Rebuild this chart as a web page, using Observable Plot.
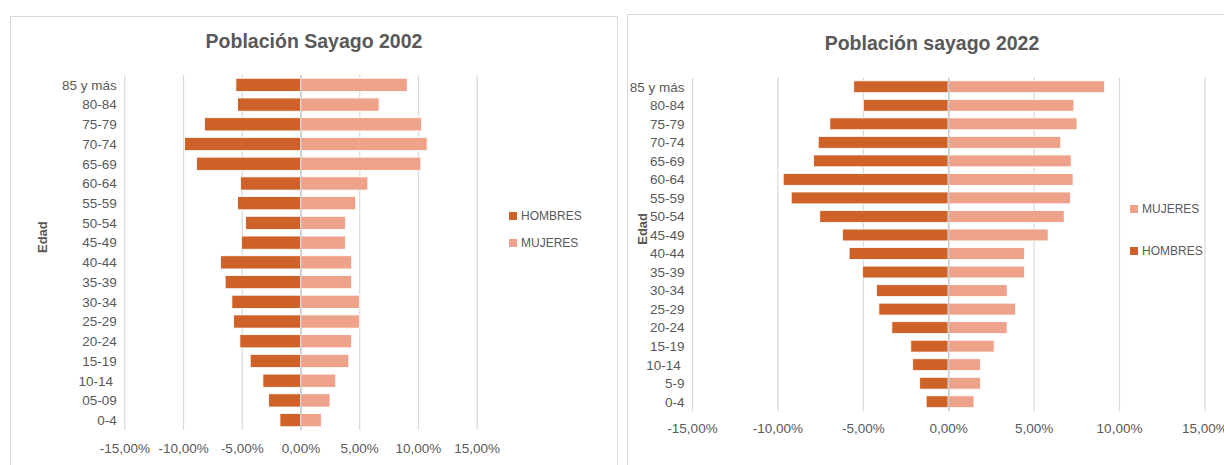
<!DOCTYPE html>
<html><head><meta charset="utf-8">
<script src="https://cdn.jsdelivr.net/npm/d3@7"></script>
<script src="https://cdn.jsdelivr.net/npm/@observablehq/plot@0.6"></script>
<style>
html,body{margin:0;padding:0;background:#fff;}
body{width:1224px;height:465px;overflow:hidden;position:relative;font-family:"Liberation Sans",Arial,sans-serif;}
.frame{position:absolute;border:1px solid #d9d9d9;box-sizing:border-box;}
.title{position:absolute;font-weight:bold;font-size:19.5px;color:#595959;white-space:nowrap;transform:translate(-50%,-50%);}
.leg{position:absolute;font-size:12px;line-height:14px;color:#595959;white-space:nowrap;display:flex;align-items:center;}
.leg .sw{display:inline-block;width:8px;height:8px;margin-right:4px;}
.chart{position:absolute;}
</style></head><body>
<div class="frame" style="left:10px;top:16px;width:608px;height:470px"></div>
<div class="frame" style="left:627px;top:14px;width:610px;height:470px"></div>
<div class="title" style="left:314px;top:41px">Población Sayago 2002</div>
<div class="title" style="left:932px;top:43px">Población sayago 2022</div>
<div id="c1" class="chart" style="left:11px;top:60px"></div>
<div id="c2" class="chart" style="left:629px;top:60px"></div>
<div id="l1a" class="leg" style="left:509px;top:209px"><span class="sw"></span>HOMBRES</div>
<div id="l1b" class="leg" style="left:509px;top:236px"><span class="sw"></span>MUJERES</div>
<div id="l2a" class="leg" style="left:1130px;top:202px"><span class="sw"></span>MUJERES</div>
<div id="l2b" class="leg" style="left:1130px;top:244px"><span class="sw"></span>HOMBRES</div>
<script>
// ---- data ----
const sexes = ["HOMBRES", "MUJERES"];
const colors = ["#CF6229", "#EFA28A"];
const xTicks = [-15, -10, -5, 0, 5, 10, 15];

const ages2002 = ["85 y más","80-84","75-79","70-74","65-69","60-64","55-59","50-54","45-49","40-44","35-39","30-34","25-29","20-24","15-19","10-14\u00a0","05-09","0-4"];
const hombres2002 = [-5.50,-5.36,-8.17,-9.87,-8.85,-5.10,-5.36,-4.67,-5.02,-6.80,-6.41,-5.84,-5.70,-5.16,-4.28,-3.20,-2.71,-1.75];
const mujeres2002 = [9.08,6.69,10.30,10.78,10.24,5.73,4.70,3.82,3.82,4.36,4.36,5.04,5.04,4.36,4.11,3.00,2.51,1.77];

const ages2022 = ["85 y más","80-84","75-79","70-74","65-69","60-64","55-59","50-54","45-49","40-44","35-39","30-34","25-29","20-24","15-19","10-14\u00a0","5-9","0-4"];
const hombres2022 = [-5.53,-4.97,-6.93,-7.61,-7.88,-9.66,-9.19,-7.52,-6.19,-5.80,-5.01,-4.20,-4.06,-3.30,-2.19,-2.08,-1.67,-1.29];
const mujeres2022 = [9.16,7.36,7.54,6.59,7.20,7.31,7.16,6.79,5.85,4.47,4.47,3.45,3.95,3.45,2.69,1.90,1.90,1.51];

const fmt = d => d.toFixed(2).replace(".", ",") + "%";

function pyramid(o) {
  const rows = o.ages.flatMap((a, i) => [
    {age: a, sexo: sexes[0], v: o.hombres[i]},
    {age: a, sexo: sexes[1], v: o.mujeres[i]}
  ]);
  return Plot.plot({
    width: o.width, height: o.height,
    marginLeft: o.ml, marginRight: o.mr, marginTop: o.mt, marginBottom: o.mb,
    style: {fontFamily: '"Liberation Sans", Arial, sans-serif', fontSize: "13.5px", color: "#595959", background: "transparent", overflow: "hidden"},
    x: {domain: [-15, 15], ticks: xTicks, tickFormat: fmt, tickSize: 0, tickPadding: o.xpad, label: null},
    y: {domain: o.ages, paddingInner: o.pad, paddingOuter: o.pad / 2, round: false, tickSize: 0, tickPadding: 8, label: null},
    color: {domain: sexes, range: colors},
    marks: [
      Plot.ruleX(xTicks, {stroke: "#d9d9d9", strokeWidth: 1.2}),
      Plot.barX(rows, {x: "v", y: "age", fill: "sexo", stroke: "white", strokeWidth: 0.8}),
      Plot.ruleX([0], {stroke: "#c8c8c8", strokeWidth: 1.4}),
      Plot.text(["Edad"], {text: d => d, frameAnchor: "left", rotate: -90, dx: o.edadDx, fontWeight: "bold", fontSize: 13, fill: "#595959"})
    ]
  });
}

document.getElementById("c1").append(pyramid({
  ages: ages2002, hombres: hombres2002, mujeres: mujeres2002,
  width: 606, height: 405, ml: 113.3, mr: 140.3, mt: 15, mb: 35, xpad: 13, pad: 0.33, edadDx: -82
}));
document.getElementById("c2").append(pyramid({
  ages: ages2022, hombres: hombres2022, mujeres: mujeres2022,
  width: 595, height: 405, ml: 63, mr: 19.6, mt: 17.5, mb: 54, xpad: 12, pad: 0.36, edadDx: -50
}));

const colorOf = s => colors[sexes.indexOf(s)];
[["l1a","HOMBRES"],["l1b","MUJERES"],["l2a","MUJERES"],["l2b","HOMBRES"]].forEach(([id, s]) => {
  document.querySelector("#" + id + " .sw").style.background = colorOf(s);
});
</script>
</body></html>
